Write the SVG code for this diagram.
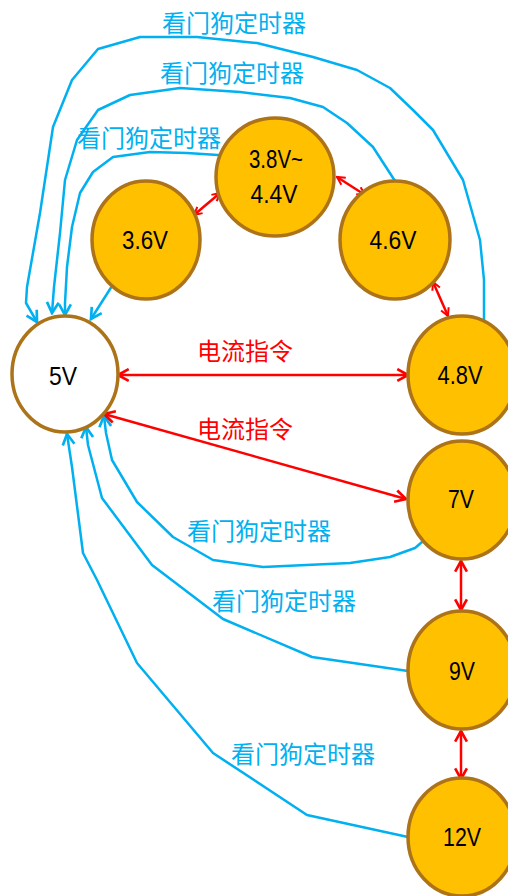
<svg xmlns="http://www.w3.org/2000/svg" width="508" height="896" viewBox="0 0 508 896">
<style>
.node{fill:#FFC000;stroke:#AD7319;stroke-width:3.5}
.white{fill:#FFFFFF}
.nt{font-family:"Liberation Sans",Arial,sans-serif;font-size:26px;fill:#000;text-anchor:middle}
.bl{fill:none;stroke:#00B0F0;stroke-width:2.5;stroke-linejoin:round;stroke-linecap:round}
.rd{fill:none;stroke:#FF0000;stroke-width:2.5}
.lb{font-family:"Noto Sans CJK SC","Liberation Sans",sans-serif;font-size:24px;fill:#00B0F0}
.lr{font-family:"Noto Sans CJK SC","Liberation Sans",sans-serif;font-size:24px;fill:#FF0000}
</style>
<defs>
<marker id="ab" viewBox="0 0 14 14" refX="12" refY="7" markerWidth="15" markerHeight="15" orient="auto-start-reverse" markerUnits="userSpaceOnUse"><path d="M2,1.5 L12,7 L2,12.5" fill="none" stroke="#00B0F0" stroke-width="2.5"/></marker>
<marker id="ar" viewBox="0 0 14 14" refX="12" refY="7" markerWidth="15" markerHeight="15" orient="auto-start-reverse" markerUnits="userSpaceOnUse"><path d="M2,1.5 L12,7 L2,12.5" fill="none" stroke="#FF0000" stroke-width="2.5"/></marker>
<marker id="as" viewBox="0 0 12 12" refX="10.5" refY="6" markerWidth="11" markerHeight="11" orient="auto-start-reverse" markerUnits="userSpaceOnUse"><path d="M2,1.5 L10.5,6 L2,10.5" fill="none" stroke="#FF0000" stroke-width="2.2"/></marker>
</defs>

<g id="connectors">
<polyline class="bl" marker-end="url(#ab)" points="484,322 484,280 480,240 463,180 433,130 413,110 390,88 357,70 313,57 257,43 197,37 140,37 98,49 72,80 53,127 40,213 27,287 26,303 37,322"/>
<polyline class="bl" marker-end="url(#ab)" points="395,181 373,147 347,123 323,107 290,98 240,92 180,88 130,95 98,110 77,140 65,180 60,233 54,287 52,313"/>
<polyline class="bl" marker-end="url(#ab)" points="218,155 187,153 150,152 113,157 93,172 80,193 72,227 67,267 65,303 65,315"/>
<line class="bl" marker-end="url(#ab)" x1="112" y1="286" x2="91" y2="319"/>
<polyline class="bl" marker-end="url(#ab)" points="422,542 415,548 390,557 350,563 263,567 213,560 173,537 137,502 112,460 106,433 104,416"/>
<polyline class="bl" marker-end="url(#ab)" points="408,671 312,657 223,619 152,565 102,498 88,445 86,427"/>
<polyline class="bl" marker-end="url(#ab)" points="408,837 307,815 213,753 137,663 97,580 83,553 72,467 67,434"/>

<line class="rd" marker-start="url(#ar)" marker-end="url(#ar)" x1="118" y1="375" x2="408" y2="375"/>
<line class="rd" marker-start="url(#ar)" marker-end="url(#ar)" x1="104" y1="414" x2="406" y2="499"/>
<line class="rd" marker-start="url(#as)" marker-end="url(#as)" x1="194" y1="215" x2="220" y2="193"/>
<line class="rd" marker-start="url(#as)" marker-end="url(#as)" x1="337" y1="177" x2="365" y2="195"/>
<line class="rd" marker-start="url(#as)" marker-end="url(#as)" x1="433" y1="282" x2="448" y2="316"/>
<line class="rd" marker-start="url(#ar)" marker-end="url(#ar)" x1="461" y1="561" x2="461" y2="610"/>
<line class="rd" marker-start="url(#ar)" marker-end="url(#ar)" x1="461" y1="731" x2="461" y2="779"/>
</g>

<g id="labels">
<text class="lb" x="162" y="32">看门狗定时器</text>
<text class="lb" x="160" y="82">看门狗定时器</text>
<text class="lb" x="77" y="147">看门狗定时器</text>
<text class="lr" x="197" y="360">电流指令</text>
<text class="lr" x="197" y="438">电流指令</text>
<text class="lb" x="187" y="540">看门狗定时器</text>
<text class="lb" x="212" y="610">看门狗定时器</text>
<text class="lb" x="231" y="763">看门狗定时器</text>
</g>

<g id="n5v"><ellipse class="node white" cx="65" cy="374" rx="53" ry="58"/><text class="nt" x="63" y="385" textLength="28" lengthAdjust="spacingAndGlyphs">5V</text></g>
<g id="n36"><ellipse class="node" cx="146" cy="240" rx="54" ry="59"/><text class="nt" x="145" y="249" textLength="46" lengthAdjust="spacingAndGlyphs">3.6V</text></g>
<g id="n38"><ellipse class="node" cx="275" cy="177" rx="59" ry="59"/><text class="nt" x="276" y="168" textLength="54" lengthAdjust="spacingAndGlyphs">3.8V~</text><text class="nt" x="274" y="203" textLength="47" lengthAdjust="spacingAndGlyphs">4.4V</text></g>
<g id="n46"><ellipse class="node" cx="395" cy="240" rx="55" ry="59"/><text class="nt" x="393" y="249" textLength="47" lengthAdjust="spacingAndGlyphs">4.6V</text></g>
<g id="n48"><ellipse class="node" cx="462" cy="375" rx="54" ry="59"/><text class="nt" x="460" y="384" textLength="45" lengthAdjust="spacingAndGlyphs">4.8V</text></g>
<g id="n7"><ellipse class="node" cx="462" cy="500" rx="54" ry="59"/><text class="nt" x="461" y="508" textLength="26" lengthAdjust="spacingAndGlyphs">7V</text></g>
<g id="n9"><ellipse class="node" cx="462" cy="670" rx="54" ry="59"/><text class="nt" x="462" y="680" textLength="26" lengthAdjust="spacingAndGlyphs">9V</text></g>
<g id="n12"><ellipse class="node" cx="462" cy="837" rx="54" ry="59"/><text class="nt" x="462" y="846" textLength="38" lengthAdjust="spacingAndGlyphs">12V</text></g>
</svg>
